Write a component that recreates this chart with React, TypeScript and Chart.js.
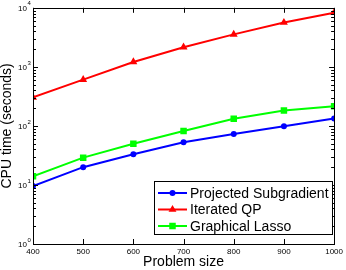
import { useEffect, useRef } from "react";
import { Chart, registerables } from "chart.js";

Chart.register(...registerables);

const problemSizes = [400, 500, 600, 700, 800, 900, 1000];
const projectedSubgradient = [9.6, 20, 33, 53, 73, 99, 134];
const iteratedQP = [304, 607, 1211, 2154, 3548, 5623, 8254];
const graphicalLasso = [14, 29, 50, 82, 132, 183, 215];
const seriesLabels = ["Projected Subgradient", "Iterated QP", "Graphical Lasso"];
const seriesColors = ["#0000ff", "#ff0000", "#00ff00"];
const seriesMarkers = ["circle", "triangle", "rect"];
const xTickValues = [400, 500, 600, 700, 800, 900, 1000];
const yDecades = [1, 10, 100, 1000, 10000];
const yTickBase = "10";
const yTickExponents = ["0", "1", "2", "3", "4"];

const FONT = "'Liberation Sans', Arial, Helvetica, sans-serif";

function drawMarker(ctx: CanvasRenderingContext2D, style: string, x: number, y: number, r: number, color: string) {
  ctx.save();
  ctx.fillStyle = color;
  ctx.beginPath();
  if (style === "circle") {
    ctx.arc(x, y, r, 0, Math.PI * 2);
  } else if (style === "triangle") {
    const s = Math.sqrt(3) * r;
    ctx.moveTo(x, y - r);
    ctx.lineTo(x + s / 2, y + r / 2);
    ctx.lineTo(x - s / 2, y + r / 2);
    ctx.closePath();
  } else {
    const h = r * Math.SQRT1_2;
    ctx.rect(x - h, y - h, 2 * h, 2 * h);
  }
  ctx.fill();
  ctx.restore();
}

const frameAndLegend = {
  id: "frameAndLegend",
  afterDatasetsDraw(chart: any) {
    const ctx: CanvasRenderingContext2D = chart.ctx;
    const area = chart.chartArea;
    const xs = chart.scales.x;
    const ys = chart.scales.y;
    ctx.save();
    ctx.strokeStyle = "#000";
    ctx.lineWidth = 1;
    ctx.strokeRect(Math.round(area.left) + 0.5, Math.round(area.top) + 0.5, Math.round(area.right - area.left), Math.round(area.bottom - area.top));
    ctx.beginPath();
    for (const v of xTickValues) {
      const px = Math.round(xs.getPixelForValue(v)) + 0.5;
      ctx.moveTo(px, area.bottom);
      ctx.lineTo(px, area.bottom - 5);
      ctx.moveTo(px, area.top);
      ctx.lineTo(px, area.top + 5);
    }
    for (let d = 0; d < yDecades.length; d++) {
      const base = yDecades[d];
      const mults = d === yDecades.length - 1 ? [1] : [1, 2, 3, 4, 5, 6, 7, 8, 9];
      for (const m of mults) {
        const py = Math.round(ys.getPixelForValue(base * m)) + 0.5;
        const len = m === 1 ? 5 : 3;
        ctx.moveTo(area.left, py);
        ctx.lineTo(area.left + len, py);
        ctx.moveTo(area.right, py);
        ctx.lineTo(area.right - len, py);
      }
    }
    ctx.stroke();

    // y tick labels: 10 with raised exponent
    ctx.fillStyle = "#000";
    ctx.textBaseline = "middle";
    yDecades.forEach((v, i) => {
      const py = ys.getPixelForValue(v);
      ctx.font = `8px ${FONT}`;
      ctx.textAlign = "right";
      ctx.fillText(yTickBase, 27, py + 1);
      ctx.font = `6px ${FONT}`;
      ctx.textAlign = "left";
      ctx.fillText(yTickExponents[i], 27.5, py - 4);
    });

    // legend box
    const lx = 154.5, ly = 181.5, lw = 178, lh = 53;
    ctx.fillStyle = "#fff";
    ctx.fillRect(lx, ly, lw, lh);
    ctx.strokeRect(lx, ly, lw, lh);
    ctx.font = `14px ${FONT}`;
    ctx.textBaseline = "middle";
    ctx.textAlign = "left";
    const rowY = [193, 209.5, 226];
    chart.data.datasets.forEach((ds: any, i: number) => {
      const y = rowY[i];
      ctx.strokeStyle = ds.borderColor;
      ctx.lineWidth = 2;
      ctx.beginPath();
      ctx.moveTo(158, y);
      ctx.lineTo(187, y);
      ctx.stroke();
      drawMarker(ctx, ds.pointStyle, 172.5, y, ds.pointRadius, ds.borderColor);
      ctx.fillStyle = "#000";
      ctx.fillText(ds.label, 190, y + 1);
    });
    ctx.restore();
  },
};

export default function App() {
  const ref = useRef<HTMLCanvasElement | null>(null);
  useEffect(() => {
    if (!ref.current) return;
    const seriesValues = [projectedSubgradient, iteratedQP, graphicalLasso];
    const chart = new Chart(ref.current, {
      type: "line",
      data: {
        datasets: seriesValues.map((vals, i) => ({
          label: seriesLabels[i],
          data: vals.map((v, j) => ({ x: problemSizes[j], y: v })),
          borderColor: seriesColors[i],
          backgroundColor: seriesColors[i],
          borderWidth: 2,
          pointStyle: seriesMarkers[i] as any,
          pointRadius: seriesMarkers[i] === "circle" ? 3 : 4.6,
          pointBorderWidth: 0,
          fill: false,
          tension: 0,
        })),
      },
      options: {
        responsive: false,
        animation: false,
        devicePixelRatio: 1,
        layout: { padding: { left: 0, right: 11, top: 5, bottom: 0 } },
        plugins: { legend: { display: false }, tooltip: { enabled: false } },
        scales: {
          x: {
            type: "linear",
            min: 400,
            max: 1000,
            grid: { display: false, drawTicks: false },
            border: { display: false },
            afterBuildTicks: (s: any) => {
              s.ticks = xTickValues.map((v) => ({ value: v }));
            },
            afterFit: (s: any) => {
              s.height = 26;
            },
            ticks: {
              color: "#000",
              font: { family: FONT, size: 8 },
              padding: 3,
              maxRotation: 0,
              autoSkip: false,
              callback: (v: any) => String(v),
            },
            title: {
              display: true,
              text: "Problem size",
              color: "#000",
              font: { family: FONT, size: 14, lineHeight: 1 },
              padding: { top: 0, bottom: 1 },
            },
          },
          y: {
            type: "logarithmic",
            min: 1,
            max: 10000,
            grid: { display: false, drawTicks: false },
            border: { display: false },
            afterBuildTicks: (s: any) => {
              s.ticks = yDecades.map((v) => ({ value: v }));
            },
            afterFit: (s: any) => {
              s.width = 33;
            },
            ticks: {
              color: "#000",
              font: { family: FONT, size: 8 },
              padding: 3,
              autoSkip: false,
              callback: () => "",
            },
            title: {
              display: true,
              text: "CPU time (seconds)",
              color: "#000",
              font: { family: FONT, size: 14, lineHeight: 1 },
              padding: { top: 0, bottom: 0 },
            },
          },
        },
      },
      plugins: [frameAndLegend],
    });
    return () => chart.destroy();
  }, []);
  return (
    <div style={{ position: "fixed", left: 0, top: 0, width: 346, height: 270, background: "#fff" }}>
      <canvas ref={ref} width={346} height={270} style={{ display: "block" }} />
    </div>
  );
}
